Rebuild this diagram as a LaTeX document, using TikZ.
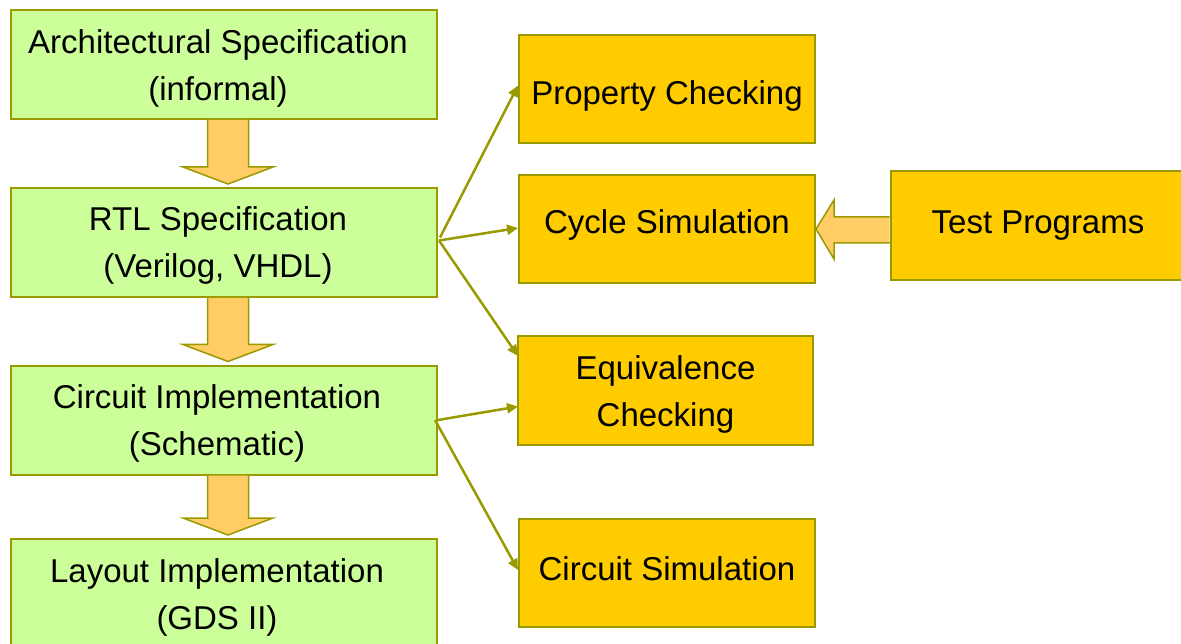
\documentclass[tikz,border=0pt]{standalone}
\usepackage{fontspec}
\setmainfont{Liberation Sans}
\usetikzlibrary{arrows.meta,calc}
\definecolor{stagegreen}{HTML}{CCFF99}
\definecolor{checkgold}{HTML}{FFCC00}
\definecolor{edgeolive}{HTML}{999900}
\definecolor{fatfill}{HTML}{FFCC66}
\tikzset{
  every node/.style={font=\fontsize{33}{47}\selectfont, align=center, inner sep=0pt},
  stagebox/.style={draw=edgeolive, line width=2pt, fill=stagegreen,
    minimum width=426pt, minimum height=109pt},
  checkbox/.style={draw=edgeolive, line width=2pt, fill=checkgold,
    minimum width=296pt, minimum height=108pt},
  fatarrow/.style={draw=edgeolive, line width=1.5pt, fill=fatfill, line join=miter},
  flow/.style={draw=edgeolive, line width=2.5pt,
    -{Triangle[length=11pt,width=10pt]}},
}
\begin{document}
\begin{tikzpicture}[x=1pt,y=-1pt]
\useasboundingbox (0,0) rectangle (1181,644);

% design stages (left column); captions sit slightly off-centre
\node[stagebox, label={[xshift=-6pt,yshift=-4pt]center:{Architectural Specification\\(informal)}}] (arch) at (224,64.5) {};
\node[stagebox, label={[xshift=-6pt,yshift=-2.5pt]center:{RTL Specification\\(Verilog, VHDL)}}] (rtl) at (224,242.5) {};
\node[stagebox, label={[xshift=-7pt,yshift=-3pt]center:{Circuit Implementation\\(Schematic)}}] (cimpl) at (224,420) {};
\node[stagebox, label={[xshift=-7pt,yshift=-3.5pt]center:{Layout Implementation\\(GDS II)}}] (layout) at (224,593.5) {};

% verification activities
\node[checkbox, label={[yshift=-6pt]center:Property Checking}] (prop) at (667,89.5) {};
\node[checkbox, label={[yshift=4pt]center:Cycle Simulation}] (cycle) at (667,229) {};
\node[checkbox, minimum width=295pt, minimum height=109pt,
  label={[yshift=-4pt]center:{Equivalence\\Checking}}] (equiv) at (665.5,390.5) {};
\node[checkbox, label={[yshift=4pt]center:Circuit Simulation}] (csim) at (667,573) {};
\node[checkbox, minimum width=291pt, minimum height=109pt,
  label={[xshift=2pt]center:Test Programs}] (test) at (1036,225.5) {};

% block arrows between stages
\foreach \a/\b in {arch/rtl, rtl/cimpl, cimpl/layout}{
  \draw[fatarrow]
    ($(\a.south)+(-16.5,0)$) -- ($(\b.north)+(-16.5,-20)$) --
    ($(\b.north)+(-41,-20)$) -- ($(\b.north)+(4,-3)$) --
    ($(\b.north)+(49,-20)$) -- ($(\b.north)+(24.5,-20)$) --
    ($(\a.south)+(24.5,0)$);
}

% block arrow from test programs to cycle simulation
\draw[fatarrow]
  ($(test.west |- cycle.east)+(0,-12)$) -- ($(cycle.east)+(18,-12)$) --
  ($(cycle.east)+(18,-29)$) -- (cycle.east) --
  ($(cycle.east)+(18,30)$) -- ($(cycle.east)+(18,14)$) --
  ($(test.west |- cycle.east)+(0,14)$);

% links from stages to checks
\draw[flow] ($(rtl.east)+(2,-5)$) -- ($(prop.west)+(0,-4)$);
\draw[flow] ($(rtl.east)+(1,-2)$) -- ($(cycle.west)+(0,-1)$);
\draw[flow] ($(rtl.east)+(1,-2)$) -- ($(equiv.north west)+(1,21)$);
\draw[flow] (cimpl.east) -- ($(equiv.west)+(1,16)$);
\draw[flow] ($(cimpl.east)+(-3,0)$) -- ($(csim.west)+(0,-3)$);
\end{tikzpicture}
\end{document}
